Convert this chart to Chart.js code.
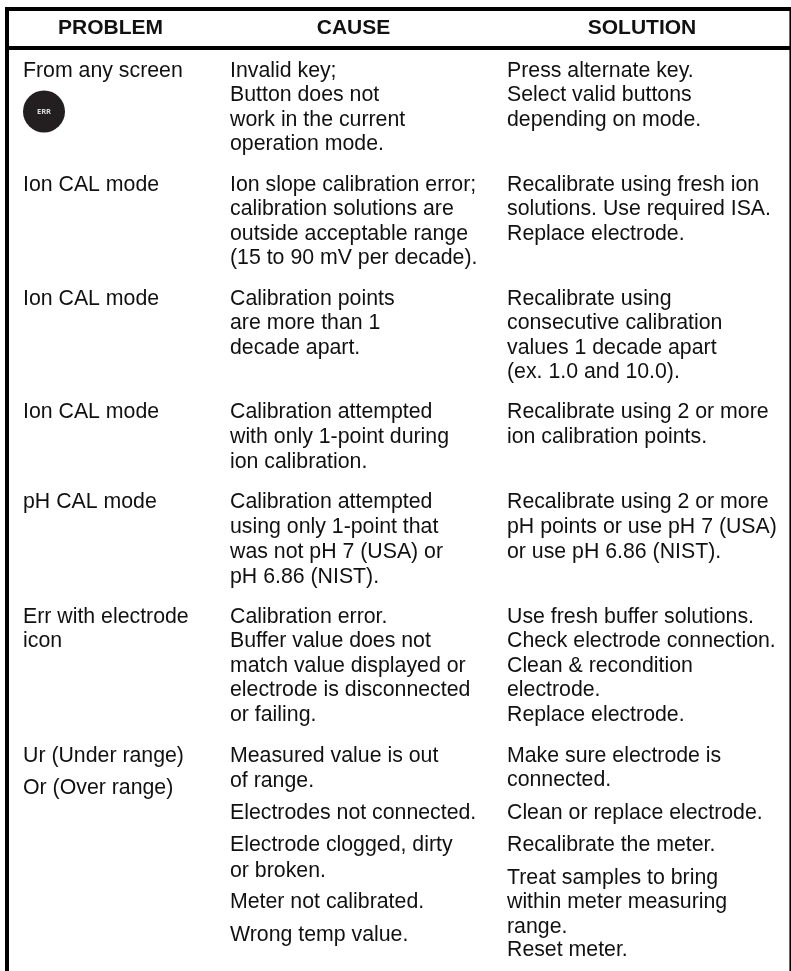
<!DOCTYPE html>
<html><head><meta charset="utf-8">
<style>html,body{margin:0;padding:0;background:#fff}#w{width:791px;height:971px}</style>
<script src="https://cdn.jsdelivr.net/npm/chart.js@4"></script>
</head><body><div id="w"><canvas id="c"></canvas></div>
<script>
const columns = ["PROBLEM","CAUSE","SOLUTION"];
const problemText = ["From any screen","Ion CAL mode","Ion CAL mode","Ion CAL mode","pH CAL mode","Err with electrode","icon","Ur (Under range)","Or (Over range)"];
const problemRows = [71,185,299,412,502,617,641,756,788];
const causeText = ["Invalid key;","Button does not","work in the current","operation mode.",
"Ion slope calibration error;","calibration solutions are","outside acceptable range","(15 to 90 mV per decade).",
"Calibration points","are more than 1","decade apart.",
"Calibration attempted","with only 1-point during","ion calibration.",
"Calibration attempted","using only 1-point that","was not pH 7 (USA) or","pH 6.86 (NIST).",
"Calibration error.","Buffer value does not","match value displayed or","electrode is disconnected","or failing.",
"Measured value is out","of range.","Electrodes not connected.","Electrode clogged, dirty","or broken.","Meter not calibrated.","Wrong temp value."];
const causeRows = [71,95,120,144,185,209,234,258,299,323,348,412,437,462,502,527,552,577,617,641,666,690,715,756,781,813,845,871,902,935];
const solutionText = ["Press alternate key.","Select valid buttons","depending on mode.",
"Recalibrate using fresh ion","solutions. Use required ISA.","Replace electrode.",
"Recalibrate using","consecutive calibration","values 1 decade apart","(ex. 1.0 and 10.0).",
"Recalibrate using 2 or more","ion calibration points.",
"Recalibrate using 2 or more","pH points or use pH 7 (USA)","or use pH 6.86 (NIST).",
"Use fresh buffer solutions.","Check electrode connection.","Clean & recondition","electrode.","Replace electrode.",
"Make sure electrode is","connected.","Clean or replace electrode.","Recalibrate the meter.","Treat samples to bring","within meter measuring","range.","Reset meter."];
const solutionRows = [71,95,120,185,209,234,299,323,348,372,412,437,502,527,552,617,641,666,690,715,756,780,813,845,878,902,927,950];
const columnLeft = [23,230,507];
const columnCenter = [110.5,353.5,642];
const headerRow = 28;
const ruleRows = [9,48];
const frameColumn = 7;
const rightColumn = 790.2;
const buttonRow = 111.5;
const buttonLabel = "ERR";
const ink = "#111";

const pts=(t,r,x)=>t.map((s,i)=>({x:Array.isArray(x)?x[i]:x,y:r[i],s}));
const textPlugin={id:'cellText',afterDatasetsDraw(ch){
  const g=ch.ctx;g.save();g.textBaseline='middle';
  ch.data.datasets.forEach((d,di)=>{
    if(!d.cell)return;
    const meta=ch.getDatasetMeta(di);
    g.font=d.cell.font;g.fillStyle=d.cell.color;g.textAlign=d.cell.align;
    meta.data.forEach((el,i)=>g.fillText(d.data[i].s,el.x,el.y));
  });
  g.restore();
}};
const textDs=(t,r,x,font,color,align)=>({type:'scatter',data:pts(t,r,x),pointRadius:0,pointHoverRadius:0,showLine:false,clip:false,cell:{font,color,align}});
const bodyFont='21.3px "Liberation Sans", Arial, sans-serif';
const headFont='bold 21px "Liberation Sans", Arial, sans-serif';
const lineDs=(a,b,w)=>({type:'line',data:[a,b],borderColor:'#000',borderWidth:w,pointRadius:0,pointHoverRadius:0,tension:0,borderCapStyle:'butt',clip:false});
new Chart(document.getElementById('c'),{
  data:{datasets:[
    lineDs({x:5,y:ruleRows[0]},{x:790,y:ruleRows[0]},4),
    lineDs({x:5,y:ruleRows[1]},{x:790,y:ruleRows[1]},4),
    lineDs({x:frameColumn,y:ruleRows[0]},{x:frameColumn,y:971},4),
    lineDs({x:rightColumn,y:ruleRows[0]-2},{x:rightColumn,y:971},1.6),
    {type:'scatter',data:[{x:columnLeft[0]+21,y:buttonRow}],pointRadius:21,pointHoverRadius:21,backgroundColor:'#231f20',borderWidth:0,clip:false},
    textDs([buttonLabel],[buttonRow],columnLeft[0]+21,'bold 7.5px "Open Sans", sans-serif','#ddd','center'),
    textDs(columns,[headerRow,headerRow,headerRow],columnCenter,headFont,ink,'center'),
    textDs(problemText,problemRows,columnLeft[0],bodyFont,ink,'left'),
    textDs(causeText,causeRows,columnLeft[1],bodyFont,ink,'left'),
    textDs(solutionText,solutionRows,columnLeft[2],bodyFont,ink,'left')
  ]},
  options:{responsive:true,maintainAspectRatio:false,animation:false,events:[],
    layout:{padding:0,autoPadding:false},
    plugins:{legend:{display:false},tooltip:{enabled:false},title:{display:false}},
    scales:{x:{type:'linear',min:0,max:791,display:false},y:{type:'linear',min:0,max:971,reverse:true,display:false}}
  },
  plugins:[textPlugin]
});
</script></body></html>
